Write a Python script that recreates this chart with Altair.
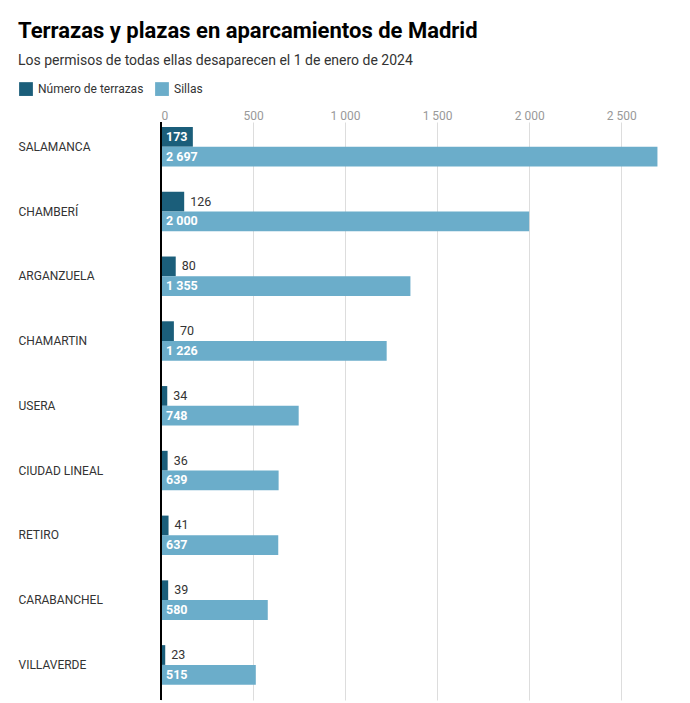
import altair as alt
import pandas as pd

districts = ["SALAMANCA", "CHAMBERÍ", "ARGANZUELA", "CHAMARTIN", "USERA",
             "CIUDAD LINEAL", "RETIRO", "CARABANCHEL", "VILLAVERDE"]
terrazas = [173, 126, 80, 70, 34, 36, 41, 39, 23]
sillas = [2697, 2000, 1355, 1226, 748, 639, 637, 580, 515]
series_names = ["Número de terrazas", "Sillas"]
series_colors = ["#1b5e7a", "#6badca"]
tick_values = [0, 500, 1000, 1500, 2000, 2500]

rows = []
for d, t, s in zip(districts, terrazas, sillas):
    rows.append({"distrito": d, "serie": series_names[0], "valor": t})
    rows.append({"distrito": d, "serie": series_names[1], "valor": s})
df = pd.DataFrame(rows)

FONT = "Roboto"
thousands = "replace(format({v}, ','), ',', ' ')"

y_enc = alt.Y(
    "distrito:N", sort=districts,
    scale=alt.Scale(paddingInner=0.39, paddingOuter=0.157, align=0.245),
    axis=alt.Axis(title=None, ticks=False, domain=False, labelAlign="left",
                  labelPadding=143, labelFontSize=12, labelColor="#333333",
                  labelFont=FONT),
)
y_off = alt.YOffset("serie:N", sort=series_names,
                    scale=alt.Scale(paddingInner=0, paddingOuter=0))
x_scale = alt.Scale(domain=[0, 2700], nice=False)
x_enc = alt.X(
    "valor:Q", scale=x_scale,
    axis=alt.Axis(orient="top", title=None, values=tick_values,
                  labelExpr=thousands.format(v="datum.value"),
                  ticks=False, domain=False, gridColor="#dddddd",
                  labelColor="#999999", labelFontSize=12, labelFont=FONT,
                  labelPadding=0),
)

base = alt.Chart(df)

bars = base.mark_bar().encode(
    x=x_enc, y=y_enc, yOffset=y_off,
    color=alt.Color(
        "serie:N",
        scale=alt.Scale(domain=series_names, range=series_colors),
        legend=alt.Legend(title=None, orient="none", legendX=-143, legendY=-41,
                          direction="horizontal", symbolType="square",
                          symbolSize=190, symbolOpacity=1, labelFontSize=12,
                          labelFont=FONT, labelColor="#333333",
                          columnPadding=10, labelOffset=4),
    ),
)

labeled = base.transform_calculate(
    etiqueta=thousands.format(v="datum.valor")
)

inside = labeled.transform_filter(
    "datum.serie == 'Sillas' || datum.valor > 150"
).mark_text(align="left", baseline="middle", dx=5, color="white",
            fontWeight="bold", fontSize=12.5, font=FONT).encode(
    x=alt.datum(0, scale=x_scale), y=y_enc, yOffset=y_off, text="etiqueta:N"
)

outside = labeled.transform_filter(
    "datum.serie != 'Sillas' && datum.valor <= 150"
).mark_text(align="left", baseline="middle", dx=6, color="#333333",
            fontSize=12.5, font=FONT).encode(
    x="valor:Q", y=y_enc, yOffset=y_off, text="etiqueta:N"
)

zero_line = alt.Chart(pd.DataFrame({"v": [0]})).mark_rule(
    color="black", strokeWidth=2
).encode(x=alt.X("v:Q", scale=x_scale))

chart = alt.layer(bars, inside, outside, zero_line).properties(
    width=497, height=578,
    title=alt.TitleParams(
        text="Terrazas y plazas en aparcamientos de Madrid",
        subtitle="Los permisos de todas ellas desaparecen el 1 de enero de 2024",
        anchor="start", font=FONT, fontSize=22, fontWeight="bold",
        color="#000000", subtitleFont=FONT, subtitleFontSize=14,
        subtitleColor="#333333", subtitlePadding=11, offset=12,
    ),
    padding={"left": 18, "top": 20, "right": 5, "bottom": 0},
).configure_view(stroke=None)

chart.save("out.html", embed_options={"renderer": "svg", "actions": False})
